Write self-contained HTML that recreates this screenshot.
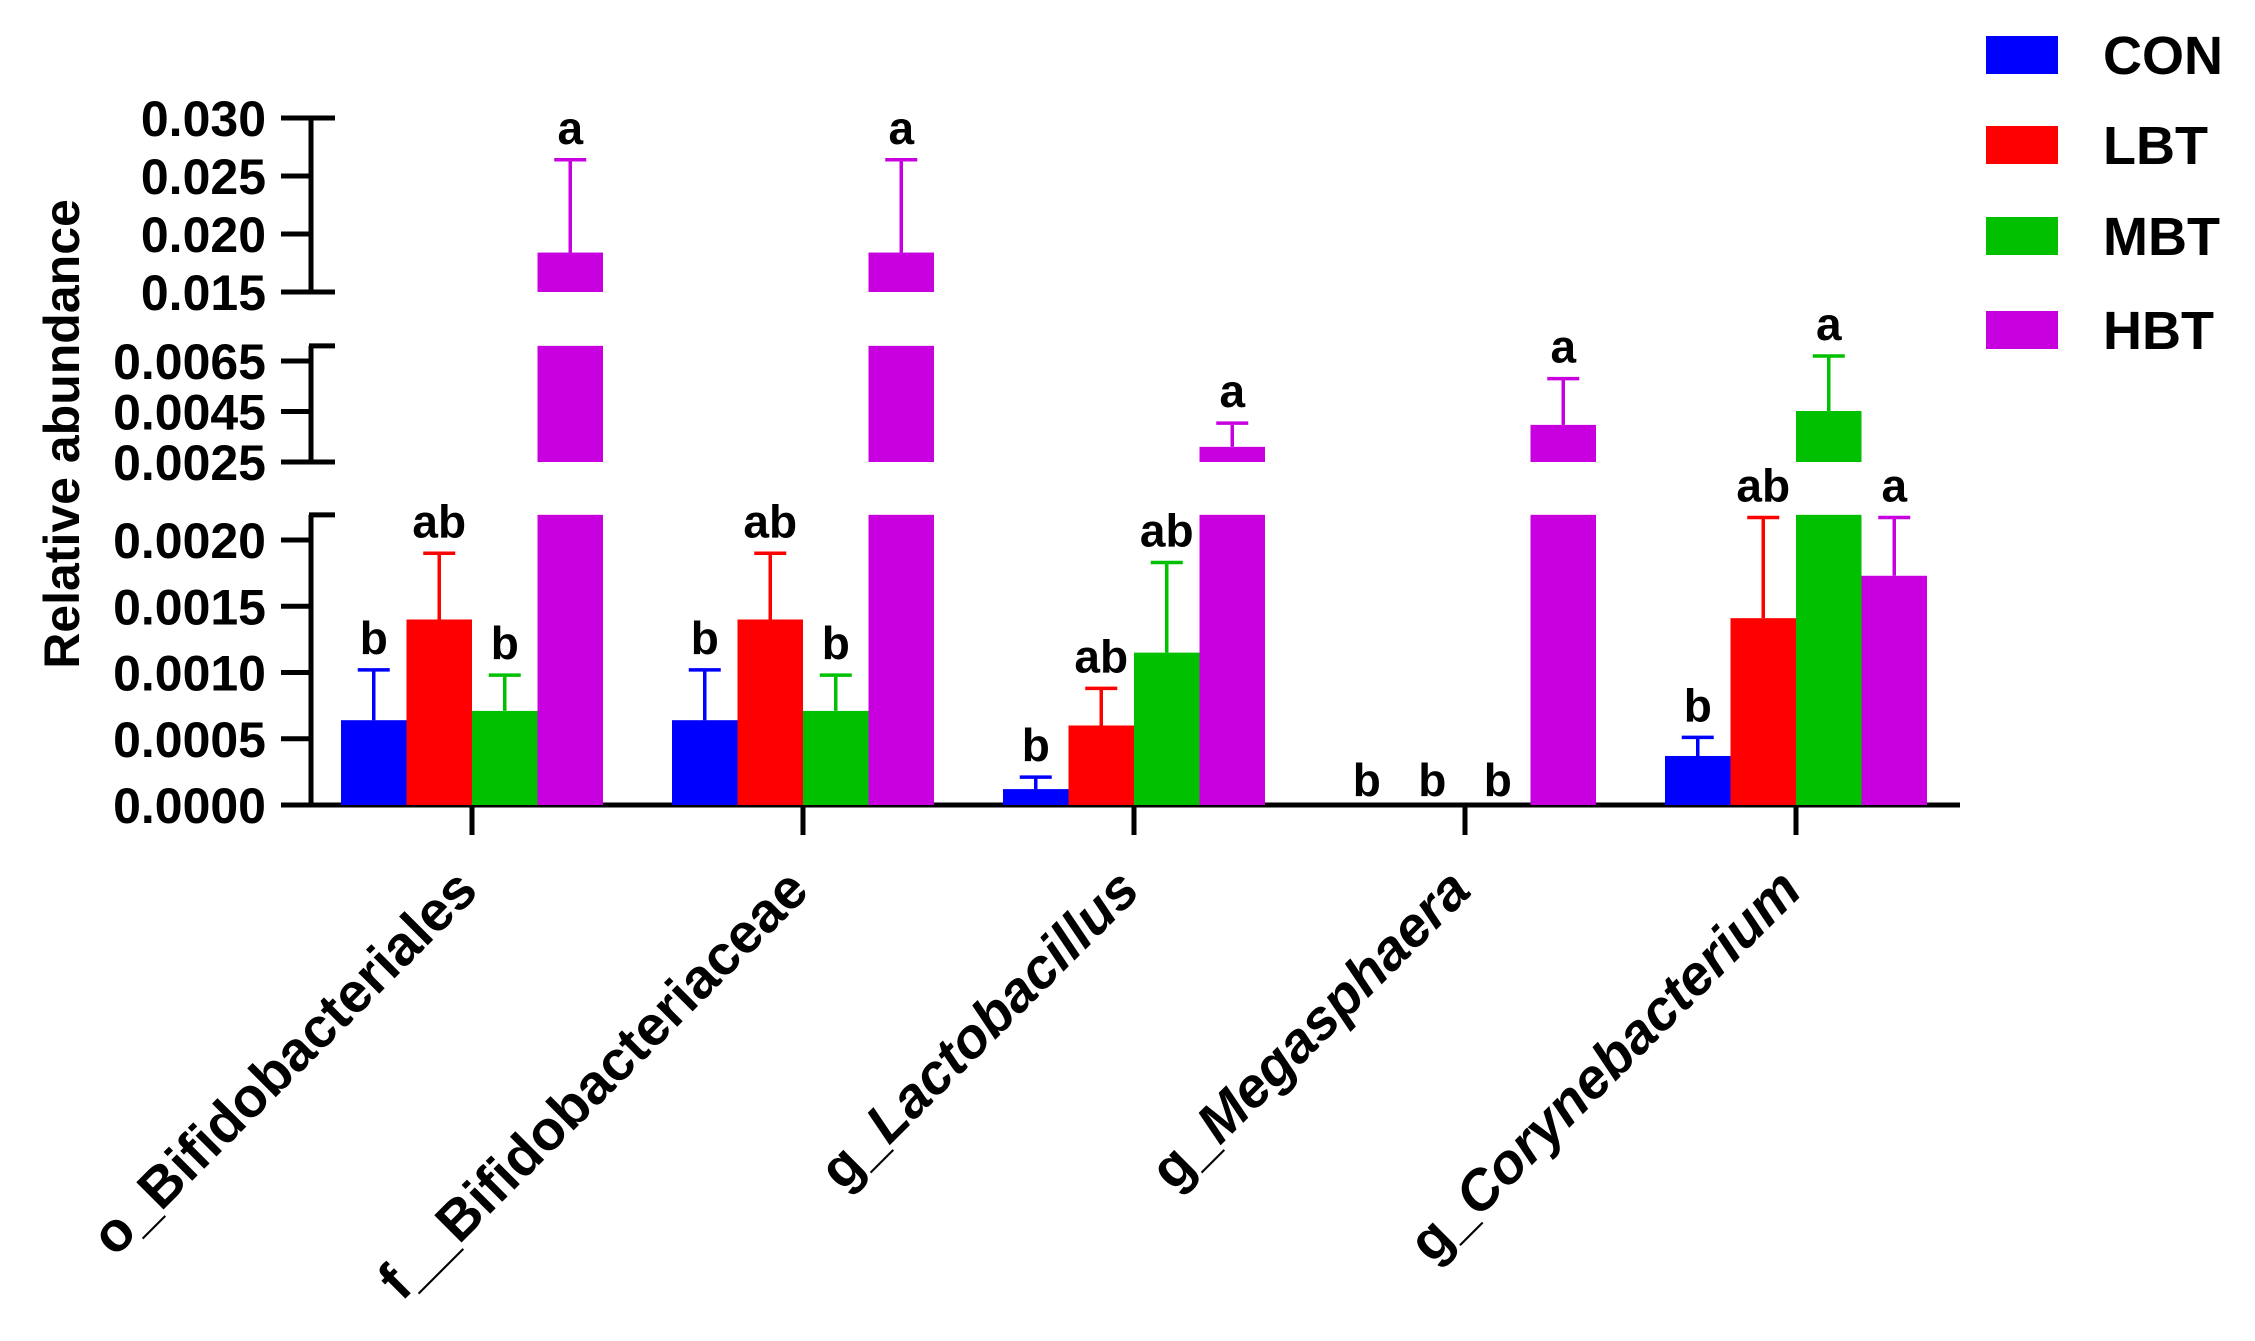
<!DOCTYPE html>
<html><head><meta charset="utf-8"><style>
html,body{margin:0;padding:0;background:#fff;}
svg{display:block;font-family:"Liberation Sans",Arial,sans-serif;font-weight:bold;}
</style></head><body>
<svg id="chart" width="2255" height="1341" viewBox="0 0 2255 1341" xmlns="http://www.w3.org/2000/svg">
<g id="axes"></g>
<g id="bars"></g>
<g id="labels"></g>
<text transform="translate(79,434) rotate(-90)" text-anchor="middle" font-size="50">Relative abundance</text>
<g id="legend"></g>
</svg>
<script>
const categories = ["o_Bifidobacteriales","f__Bifidobacteriaceae","g_Lactobacillus","g_Megasphaera","g_Corynebacterium"];
const italicCat = [false,false,true,true,true];
const groups = ["CON","LBT","MBT","HBT"];
const colors = ["#0000ff","#ff0000","#00c000","#c800e0"];
const valCON = [0.00064,0.00064,0.00012,0,0.00037];
const valLBT = [0.0014,0.0014,0.0006,0,0.00141];
const valMBT = [0.00071,0.00071,0.00115,0,0.00452];
const valHBT = [0.0184,0.0184,0.0031,0.00397,0.00173];
const capCON = [0.00102,0.00102,0.00021,0,0.00051];
const capLBT = [0.0019,0.0019,0.00088,0,0.00217];
const capMBT = [0.00098,0.00098,0.00183,0,0.0067];
const capHBT = [0.0264,0.0264,0.00404,0.0058,0.00217];
const letCON = ["b","b","b","b","b"];
const letLBT = ["ab","ab","ab","b","ab"];
const letMBT = ["b","b","ab","b","a"];
const letHBT = ["a","a","a","a","a"];
const ticksLow = [0,0.0005,0.001,0.0015,0.002];
const ticksLowLbl = ["0.0000","0.0005","0.0010","0.0015","0.0020"];
const ticksMid = [0.0025,0.0045,0.0065];
const ticksMidLbl = ["0.0025","0.0045","0.0065"];
const ticksUp = [0.015,0.02,0.025,0.03];
const ticksUpLbl = ["0.015","0.020","0.025","0.030"];

const vals=[valCON,valLBT,valMBT,valHBT], caps=[capCON,capLBT,capMBT,capHBT], lets=[letCON,letLBT,letMBT,letHBT];
// segments
const segLow={v0:0,v1:0.00219,y0:805,k:132500};
const segMid={v0:0.0025,v1:0.0071,y0:462,k:25250};
const segUp={v0:0.015,v1:0.030,y0:292,k:11600};
const segs=[segLow,segMid,segUp];
const sy=(s,v)=>s.y0-(v-s.v0)*s.k;
function yOf(v){for(const s of [segUp,segMid,segLow]){if(v>=s.v0)return sy(s,Math.min(v,s.v1));}return 805;}
const xCat=i=>472+i*331;
const BW=65.5, AX=311;
const NS="http://www.w3.org/2000/svg";
function mk(tag,attrs,parent){const e=document.createElementNS(NS,tag);for(const k in attrs)e.setAttribute(k,attrs[k]);parent.appendChild(e);return e;}
const axes=document.getElementById('axes'),bars=document.getElementById('bars'),labels=document.getElementById('labels'),legend=document.getElementById('legend');
// y axis segments
segs.forEach((s,si)=>{
  const l=mk('line',{x1:AX,x2:AX,y1:sy(s,s.v0)+(si==0?2:0),y2:sy(s,s.v1),stroke:'#000','stroke-width':5},axes);
  
  
  const b1=mk('line',{x1:AX-2,x2:AX+24,y1:sy(s,s.v1),y2:sy(s,s.v1),stroke:'#000','stroke-width':5},axes);
  
  
  if(si>0){const b2=mk('line',{x1:AX-2,x2:AX+24,y1:sy(s,s.v0),y2:sy(s,s.v0),stroke:'#000','stroke-width':5},axes);
  
  }
});
function ticks(s,tv,tl){tv.forEach((v,i)=>{const y=sy(s,v);
  const t=mk('line',{x1:281,x2:AX,y1:y,y2:y,stroke:'#000','stroke-width':5},axes);
  
  
  const tx=mk('text',{x:266,y:y+18,'text-anchor':'end','font-size':50},axes);tx.textContent=tl[i];
  
  });}
ticks(segLow,ticksLow,ticksLowLbl);ticks(segMid,ticksMid,ticksMidLbl);ticks(segUp,ticksUp,ticksUpLbl);
// x axis
const xa=mk('line',{x1:281,x2:1960,y1:805,y2:805,stroke:'#000','stroke-width':5},axes);


categories.forEach((c,i)=>{const x=xCat(i);
  const t=mk('line',{x1:x,x2:x,y1:805,y2:835,stroke:'#000','stroke-width':5},axes);
  
  
  const tx=mk('text',{transform:`translate(${x+8},893) rotate(-45)`,'text-anchor':'end','font-size':56},axes);
  
  
  if(italicCat[i]){const p=c.indexOf('_');const a=mk('tspan',{},tx);a.textContent=c.slice(0,p+1);const b=mk('tspan',{'font-style':'italic'},tx);b.textContent=c.slice(p+1);}
  else tx.textContent=c;
});
// bars
categories.forEach((c,i)=>{
  groups.forEach((g,j)=>{
    const v=vals[j][i], cp=caps[j][i];
    const x=xCat(i)-2*BW+j*BW;
    segs.forEach(s=>{ if(v>s.v0){const top=sy(s,Math.min(v,s.v1));const bot=sy(s,s.v0);
      const r=mk('rect',{x:x,y:top,width:BW,height:bot-top,fill:colors[j]},bars);
      
      }});
    let ly=yOf(v)-9;
    if(cp>v){const y1=yOf(v),y2=yOf(cp),cx=x+BW/2;
      const e=mk('path',{d:`M${cx},${y1}V${y2}M${cx-16},${y2}H${cx+16}`,stroke:colors[j],'stroke-width':3.5,fill:'none'},bars);
      
      
      ly=y2-16;}
    const lt=mk('text',{x:x+BW/2,y:ly,'text-anchor':'middle','font-size':46},labels);lt.textContent=lets[j][i];
    
    
  });
});
// legend
const legY=[55,145,236,330];
groups.forEach((g,j)=>{
  const r=mk('rect',{x:1986,y:legY[j]-19,width:72,height:38,fill:colors[j]},legend);
  
  
  const t=mk('text',{x:2103,y:legY[j]+19,'font-size':54},legend);t.textContent=g;
  
  
});
</script>
</body></html>
